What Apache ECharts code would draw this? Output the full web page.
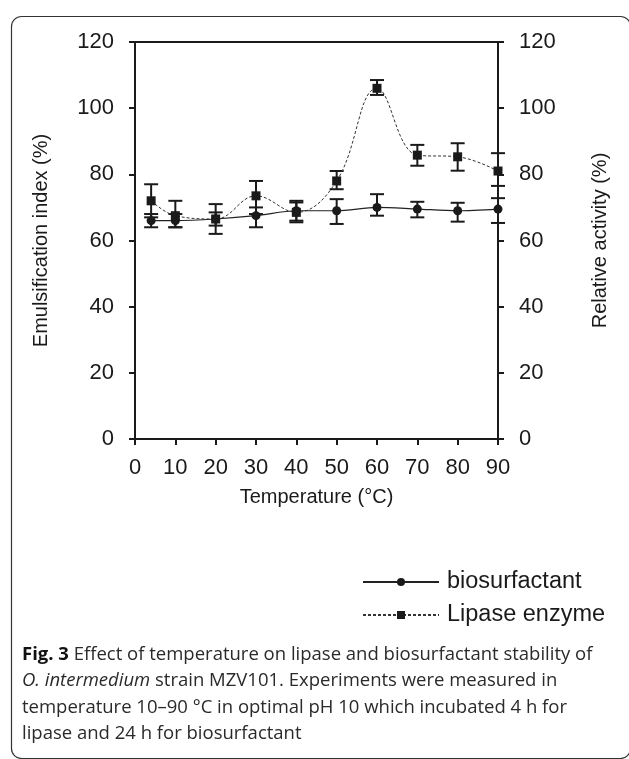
<!DOCTYPE html>
<html>
<head>
<meta charset="utf-8">
<script src="https://cdn.jsdelivr.net/npm/echarts@6/dist/echarts.min.js"></script>
<style>
html,body{margin:0;padding:0;background:#fff;}
#main{width:629px;height:759px;}
</style>
</head>
<body>
<div id="main"></div>
<script>
// ---- data ----
const temperatures = [4, 10, 20, 30, 40, 50, 60, 70, 80, 90];
const biosurfactant = [66, 66, 66.5, 67.5, 69, 69, 70, 69.5, 69, 69.5];
const biosurfactantLow = [64, 64, 64.5, 64, 66, 65, 67.5, 67, 65.7, 65.3];
const biosurfactantHigh = [68, 68, 68.5, 70, 71.5, 72.5, 74, 71.7, 71.4, 72.8];
const lipase = [72, 67.5, 66.5, 73.5, 68.5, 78, 106, 85.8, 85.3, 81];
const lipaseLow = [67, 64, 62, 68, 65.5, 75.5, 104, 82.6, 81.1, 76.5];
const lipaseHigh = [77, 72, 71, 78, 72, 81, 108.5, 88.9, 89.4, 86.4];
const yTicks = [0, 20, 40, 60, 80, 100, 120];
const xTicks = [0, 10, 20, 30, 40, 50, 60, 70, 80, 90];

const chart = echarts.init(document.getElementById('main'), null, {renderer: 'canvas'});

function pairs(xs, ys) { return xs.map((x, i) => [x, ys[i]]); }
function errData(xs, lo, hi) { return xs.map((x, i) => [x, lo[i], hi[i]]); }

function errRender(params, api) {
  const x = api.value(0);
  const lo = api.coord([x, api.value(1)]);
  const hi = api.coord([x, api.value(2)]);
  const hw = 7;
  const style = {stroke: '#1a1a1a', lineWidth: 2};
  return {
    type: 'group',
    children: [
      {type: 'line', shape: {x1: lo[0], y1: lo[1], x2: hi[0], y2: hi[1]}, style: style},
      {type: 'line', shape: {x1: lo[0] - hw, y1: lo[1], x2: lo[0] + hw, y2: lo[1]}, style: style},
      {type: 'line', shape: {x1: hi[0] - hw, y1: hi[1], x2: hi[0] + hw, y2: hi[1]}, style: style}
    ]
  };
}

const axisFont = 'Liberation Sans, Arial, sans-serif';
const yAxisCommon = {
  type: 'value', min: 0, max: 120, interval: 20,
  axisLine: {show: true, lineStyle: {color: '#1a1a1a', width: 2}},
  axisTick: {show: true, length: 6, lineStyle: {color: '#1a1a1a', width: 2}},
  axisLabel: {color: '#1a1a1a', fontSize: 22, fontFamily: axisFont, margin: 21,
    formatter: v => yTicks.includes(v) ? String(v) : ''},
  splitLine: {show: false},
  nameLocation: 'middle',
  nameTextStyle: {color: '#1a1a1a', fontSize: 20, fontFamily: axisFont}
};

const option = {
  backgroundColor: '#fff',
  animation: false,
  grid: {left: 135, right: 131, top: 42, bottom: 320, containLabel: false,
    show: true, borderColor: '#1a1a1a', borderWidth: 2, backgroundColor: 'transparent'},
  xAxis: {
    type: 'value', min: 0, max: 90, interval: 10,
    axisLine: {lineStyle: {color: '#1a1a1a', width: 2}},
    axisTick: {show: true, length: 6, lineStyle: {color: '#1a1a1a', width: 2}},
    axisLabel: {color: '#1a1a1a', fontSize: 22, fontFamily: axisFont, margin: 18,
      formatter: v => xTicks.includes(v) ? String(v) : ''},
    splitLine: {show: false},
    name: 'Temperature (°C)', nameLocation: 'middle', nameGap: 48,
    nameTextStyle: {color: '#1a1a1a', fontSize: 20, fontFamily: axisFont}
  },
  yAxis: [
    Object.assign({}, yAxisCommon, {position: 'left', name: 'Emulsification index (%)', nameGap: 84}),
    Object.assign({}, yAxisCommon, {position: 'right', name: 'Relative activity (%)', nameGap: 92})
  ],
  legend: {
    orient: 'vertical', left: 362, top: 570, padding: 0,
    itemWidth: 76, itemHeight: 10, itemGap: 9,
    textStyle: {color: '#1a1a1a', fontSize: 23.5, fontFamily: axisFont, padding: [0, 0, 0, 3]},
    data: ['biosurfactant', 'Lipase enzyme']
  },
  series: [
    {
      name: 'biosurfactant', type: 'line', yAxisIndex: 0,
      data: pairs(temperatures, biosurfactant),
      symbol: 'circle', symbolSize: 9, smooth: 0.3,
      lineStyle: {color: '#222', width: 1.2, type: 'solid'},
      itemStyle: {color: '#1a1a1a'},
      z: 3
    },
    {
      name: 'Lipase enzyme', type: 'line', yAxisIndex: 1,
      data: pairs(temperatures, lipase),
      symbol: 'rect', symbolSize: 9, smooth: 0.4,
      lineStyle: {color: '#333', width: 1, type: [3, 2]},
      itemStyle: {color: '#1a1a1a'},
      z: 3
    },
    {
      type: 'custom', yAxisIndex: 0, renderItem: errRender,
      data: errData(temperatures, biosurfactantLow, biosurfactantHigh),
      encode: {x: 0, y: [1, 2]}, z: 2, silent: true
    },
    {
      type: 'custom', yAxisIndex: 1, renderItem: errRender,
      data: errData(temperatures, lipaseLow, lipaseHigh),
      encode: {x: 0, y: [1, 2]}, z: 2, silent: true
    }
  ],
  graphic: [
    {
      type: 'rect', left: 9, top: 14, z: -1, silent: true,
      shape: {width: 619, height: 742, r: 10},
      style: {fill: 'none', stroke: '#333', lineWidth: 1.2}
    },
    {
      type: 'text', left: 22, top: 641, silent: true,
      style: {
        text: '{b|Fig. 3} Effect of temperature on lipase and biosurfactant stability of\n{i|O. intermedium} strain MZV101. Experiments were measured in\ntemperature 10–90 °C in optimal pH 10 which incubated 4 h for\nlipase and 24 h for biosurfactant',
        fontFamily: 'Open Sans, Noto Sans, sans-serif', fontSize: 18.5, lineHeight: 26.5, fill: '#2a2a2a',
        rich: {
          b: {fontWeight: 'bold', fontFamily: 'Open Sans, Noto Sans, sans-serif', fontSize: 18.5, fill: '#111', lineHeight: 26.5},
          i: {fontStyle: 'italic', fontFamily: 'Open Sans, Noto Sans, sans-serif', fontSize: 18.5, fill: '#2a2a2a', lineHeight: 26.5}
        }
      }
    }
  ]
};
chart.setOption(option);
</script>
</body>
</html>
